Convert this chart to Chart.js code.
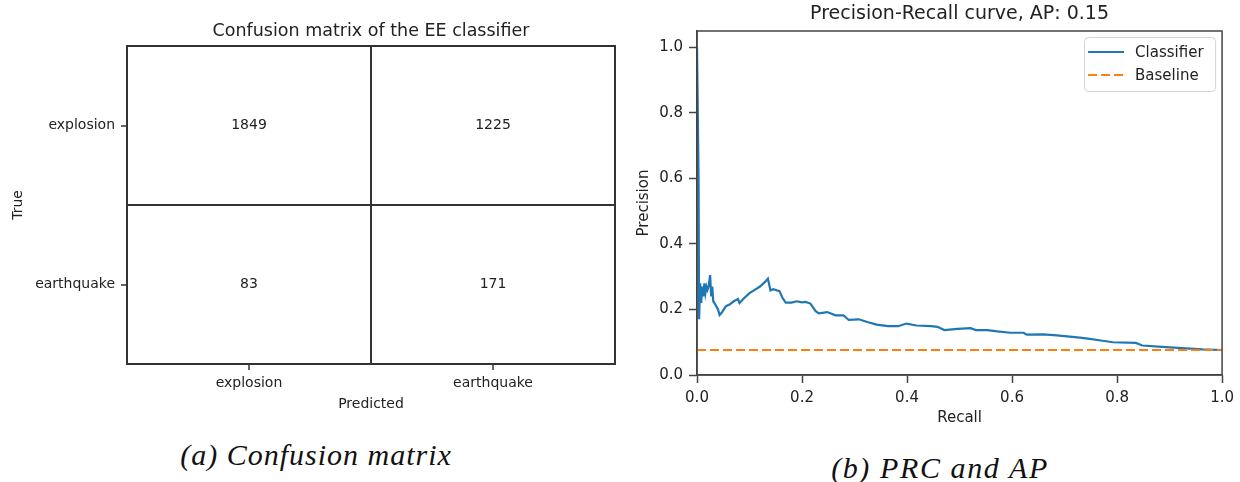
<!DOCTYPE html>
<html><head><meta charset="utf-8">
<script src="https://cdn.jsdelivr.net/npm/chart.js@4.4.1/dist/chart.umd.min.js"></script>
<style>
html,body{margin:0;padding:0;background:#fff;width:1240px;height:482px;overflow:hidden;}
#c1wrap{position:absolute;left:0;top:0;width:630px;height:420px;}
#c2wrap{position:absolute;left:630px;top:0;width:610px;height:432px;}
.cap{position:absolute;font-family:'Liberation Serif',serif;font-style:italic;font-size:30px;color:#111;white-space:nowrap;transform:translate(-50%,-50%);}
</style></head>
<body>
<div id="c1wrap"><canvas id="c1"></canvas></div>
<div id="c2wrap"><canvas id="c2"></canvas></div>
<div class="cap" style="left:316px;top:455px;letter-spacing:1px;">(a) Confusion matrix</div>
<div class="cap" style="left:940px;top:468px;letter-spacing:1.6px;">(b) PRC and AP</div>
<script>
// ---- Data ----
const trueLabels = ['explosion', 'earthquake'];
const predLabels = ['explosion', 'earthquake'];
const countsExplosionRow = [1849, 1225];
const countsEarthquakeRow = [83, 171];

const recall = [0, 0.003, 0.004, 0.006, 0.008, 0.010, 0.012, 0.014, 0.016, 0.018, 0.020, 0.022, 0.025, 0.027, 0.029, 0.031, 0.035, 0.040, 0.043, 0.047, 0.055, 0.062, 0.070, 0.078, 0.081, 0.090, 0.100, 0.110, 0.120, 0.130, 0.135, 0.140, 0.145, 0.157, 0.163, 0.169, 0.180, 0.190, 0.200, 0.207, 0.216, 0.226, 0.232, 0.248, 0.264, 0.279, 0.289, 0.308, 0.326, 0.342, 0.364, 0.383, 0.399, 0.418, 0.446, 0.458, 0.471, 0.496, 0.521, 0.531, 0.553, 0.572, 0.597, 0.622, 0.628, 0.660, 0.685, 0.710, 0.729, 0.748, 0.766, 0.792, 0.836, 0.848, 0.886, 0.924, 0.962, 1.000];
const precision = [1.0, 0.6, 0.17, 0.28, 0.22, 0.27, 0.24, 0.28, 0.25, 0.27, 0.26, 0.27, 0.305, 0.24, 0.27, 0.225, 0.215, 0.20, 0.183, 0.19, 0.21, 0.215, 0.225, 0.232, 0.22, 0.235, 0.25, 0.26, 0.27, 0.285, 0.294, 0.258, 0.262, 0.256, 0.235, 0.221, 0.221, 0.225, 0.222, 0.223, 0.218, 0.195, 0.188, 0.192, 0.182, 0.182, 0.168, 0.17, 0.161, 0.154, 0.149, 0.149, 0.157, 0.151, 0.149, 0.147, 0.137, 0.141, 0.143, 0.137, 0.137, 0.133, 0.129, 0.129, 0.123, 0.124, 0.121, 0.117, 0.114, 0.11, 0.106, 0.1, 0.098, 0.09, 0.086, 0.082, 0.078, 0.0763];
const baselinePrecision = 0.0763;
const prTicks = ['0.0', '0.2', '0.4', '0.6', '0.8', '1.0'];

// ---- Helpers ----
const FONT = 'DejaVu Sans';
const TXT = '#222';
const frame = {
  id: 'frame',
  afterDraw(chart, args, o) {
    const {ctx, chartArea: a} = chart;
    ctx.save();
    ctx.strokeStyle = o.color; ctx.lineWidth = o.width;
    ctx.strokeRect(a.left, a.top, a.right - a.left, a.bottom - a.top);
    ctx.restore();
  }
};
const cellText = {
  id: 'cellText',
  afterDatasetsDraw(chart) {
    const {ctx} = chart;
    const meta = chart.getDatasetMeta(0);
    const ds = chart.data.datasets[0];
    ctx.save();
    ctx.font = '14px "' + FONT + '"';
    ctx.fillStyle = TXT; ctx.textAlign = 'center'; ctx.textBaseline = 'middle';
    meta.data.forEach((el, i) => ctx.fillText(String(ds.data[i].v), el.x, el.y));
    ctx.restore();
  }
};
const boxLegend = {
  id: 'boxLegend',
  afterDraw(chart, args, o) {
    const {ctx, chartArea: a} = chart;
    const x = a.right - o.marginRight - o.width, y = a.top + o.marginTop;
    ctx.save();
    ctx.beginPath();
    ctx.roundRect(x + 0.5, y + 0.5, o.width, o.height, 4);
    ctx.fillStyle = 'rgba(255,255,255,0.85)'; ctx.fill();
    ctx.strokeStyle = '#d4d4d4'; ctx.lineWidth = 1; ctx.stroke();
    ctx.font = '15px "' + FONT + '"'; ctx.textBaseline = 'middle'; ctx.textAlign = 'left';
    chart.data.datasets.forEach((ds, i) => {
      const ly = y + o.rowStart + i * o.rowGap;
      ctx.beginPath();
      ctx.strokeStyle = ds.borderColor; ctx.lineWidth = ds.borderWidth;
      ctx.setLineDash(ds.borderDash || []);
      ctx.moveTo(x + 4, ly); ctx.lineTo(x + 40, ly); ctx.stroke();
      ctx.setLineDash([]);
      ctx.fillStyle = TXT;
      ctx.fillText(ds.label, x + 51, ly + 1);
    });
    ctx.restore();
  }
};
// top axis used only to carry a title centred over the plot area
const titleAxis = (text, size, padTop, h) => ({
  type: 'linear', position: 'top', display: true, min: 0, max: 1,
  afterFit: s => { s.height = h; },
  ticks: {display: false},
  grid: {display: false, drawTicks: false},
  border: {display: false},
  title: {display: true, text: text, color: TXT, font: {family: FONT, size: size}, padding: {top: padTop, bottom: 0}}
});

// ---- Chart 1: confusion matrix ----
const rows = [countsExplosionRow, countsEarthquakeRow];
const cells = [];
rows.forEach((row, i) => row.forEach((v, j) => cells.push({x: j + 0.5, y: i + 0.5, v: v})));
const midTicks = s => { s.ticks = [{value: 0.5}, {value: 1}, {value: 1.5}]; };
const gridCol = c => (c.tick && c.tick.value === 1) ? '#333' : 'rgba(0,0,0,0)';
const tickCol = c => (c.tick && c.tick.value === 1) ? 'rgba(0,0,0,0)' : '#333';

new Chart(document.getElementById('c1'), {
  type: 'scatter',
  data: {datasets: [{data: cells, xAxisID: 'x', yAxisID: 'y', pointRadius: 0, pointHoverRadius: 0}]},
  options: {
    responsive: true, maintainAspectRatio: false, animation: false, devicePixelRatio: 1,
    layout: {padding: {left: 0, right: 15, top: 0, bottom: 0}},
    plugins: {
      legend: {display: false}, tooltip: {enabled: false}, title: {display: false},
      frame: {color: '#333', width: 2}
    },
    scales: {
      x: {
        type: 'linear', position: 'bottom', min: 0, max: 2,
        afterBuildTicks: midTicks,
        afterFit: s => { s.height = 56; },
        ticks: {callback: v => v === 0.5 ? predLabels[0] : (v === 1.5 ? predLabels[1] : ''),
          font: {family: FONT, size: 14}, color: TXT, padding: 5, maxRotation: 0},
        grid: {color: gridCol, lineWidth: 2, tickColor: tickCol, tickLength: 6, tickWidth: 1.5},
        border: {display: true, color: '#333', width: 2},
        title: {display: true, text: 'Predicted', color: TXT, font: {family: FONT, size: 14}, padding: {top: 0, bottom: 7.6}}
      },
      y: {
        type: 'linear', min: 0, max: 2, reverse: true,
        afterBuildTicks: midTicks,
        afterFit: s => { s.width = 127; },
        ticks: {callback: v => v === 0.5 ? trueLabels[0] : (v === 1.5 ? trueLabels[1] : ''),
          font: {family: FONT, size: 14}, color: TXT, padding: 6},
        grid: {color: gridCol, lineWidth: 2, tickColor: tickCol, tickLength: 6, tickWidth: 1.5},
        border: {display: true, color: '#333', width: 2},
        title: {display: true, text: 'True', color: TXT, font: {family: FONT, size: 14}, padding: {top: 10, bottom: 0}}
      },
      top: titleAxis('Confusion matrix of the EE classifier', 17.5, 21, 46)
    }
  },
  plugins: [frame, cellText]
});

// ---- Chart 2: precision-recall curve ----
new Chart(document.getElementById('c2'), {
  type: 'scatter',
  data: {datasets: [
    {label: 'Classifier', data: recall.map((r, i) => ({x: r, y: precision[i]})), showLine: true, xAxisID: 'x', yAxisID: 'y',
      borderColor: '#1f77b4', backgroundColor: '#1f77b4', borderWidth: 2.2, pointRadius: 0, pointHoverRadius: 0, order: 1},
    {label: 'Baseline', data: [{x: 0, y: baselinePrecision}, {x: 1, y: baselinePrecision}], showLine: true, xAxisID: 'x', yAxisID: 'y',
      borderColor: '#ff7f0e', backgroundColor: '#ff7f0e', borderWidth: 2.2, borderDash: [9, 4], pointRadius: 0, pointHoverRadius: 0, order: 0}
  ]},
  options: {
    responsive: true, maintainAspectRatio: false, animation: false, devicePixelRatio: 1,
    layout: {padding: {left: 0, right: 13, top: 0, bottom: 0}},
    plugins: {
      legend: {display: false}, tooltip: {enabled: false}, title: {display: false},
      frame: {color: '#444', width: 1.5},
      boxLegend: {width: 131, height: 54, marginRight: 7, marginTop: 6, rowStart: 15, rowGap: 23}
    },
    scales: {
      x: {
        type: 'linear', min: 0, max: 1,
        afterFit: s => { s.height = 57; },
        ticks: {stepSize: 0.2, callback: (v, i) => prTicks[i], font: {family: FONT, size: 15}, color: TXT, padding: 6, maxRotation: 0},
        grid: {drawOnChartArea: false, drawTicks: true, tickLength: 8, tickColor: '#444', tickWidth: 1.5},
        border: {display: true, color: '#444', width: 1.5},
        title: {display: true, text: 'Recall', color: TXT, font: {family: FONT, size: 15}, padding: {top: 0, bottom: 5}}
      },
      y: {
        type: 'linear', min: 0, max: 1.05,
        afterFit: s => { s.width = 67; },
        ticks: {stepSize: 0.2, includeBounds: false, callback: (v, i) => prTicks[i], font: {family: FONT, size: 15}, color: TXT, padding: 6},
        grid: {drawOnChartArea: false, drawTicks: true, tickLength: 8, tickColor: '#444', tickWidth: 1.5},
        border: {display: true, color: '#444', width: 1.5},
        title: {display: true, text: 'Precision', color: TXT, font: {family: FONT, size: 15}, padding: {top: 5, bottom: 0}}
      },
      top: titleAxis('Precision-Recall curve, AP: 0.15', 19, 2.6, 31)
    }
  },
  plugins: [frame, boxLegend]
});
</script>
</body></html>
